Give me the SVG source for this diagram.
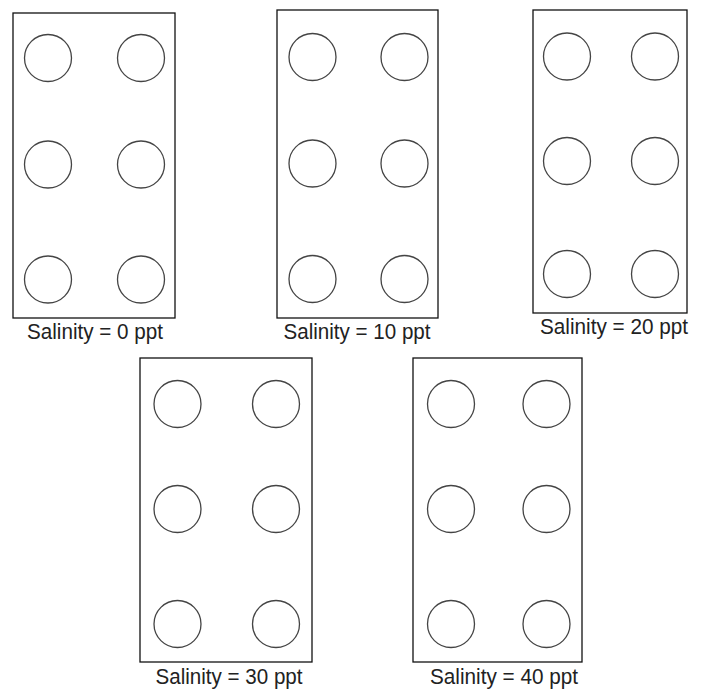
<svg xmlns="http://www.w3.org/2000/svg" width="702" height="690" viewBox="0 0 702 690">
<style>
.tank{fill:none;stroke:#111;stroke-width:1.3}
.dish{fill:none;stroke:#444;stroke-width:1.3}
.lbl{font-family:"Liberation Sans",Arial,sans-serif;font-size:22px;fill:#222;text-anchor:middle}
</style>
<rect width="702" height="690" fill="#fff"/>
<g id="tank0">
<rect class="tank" x="13" y="13" width="162" height="305"/>
<circle class="dish" cx="48" cy="58" r="23.5"/><circle class="dish" cx="141" cy="58" r="23.5"/>
<circle class="dish" cx="48" cy="164.5" r="23.5"/><circle class="dish" cx="141" cy="164.5" r="23.5"/>
<circle class="dish" cx="48" cy="279.5" r="23.5"/><circle class="dish" cx="141" cy="279.5" r="23.5"/>
<text class="lbl" x="95" y="338.5" textLength="136" lengthAdjust="spacingAndGlyphs">Salinity = 0 ppt</text>
</g>
<g id="tank10">
<rect class="tank" x="277" y="10" width="161" height="308"/>
<circle class="dish" cx="312.5" cy="57" r="23.5"/><circle class="dish" cx="404.5" cy="57" r="23.5"/>
<circle class="dish" cx="312.5" cy="163.5" r="23.5"/><circle class="dish" cx="404.5" cy="163.5" r="23.5"/>
<circle class="dish" cx="312.5" cy="279" r="23.5"/><circle class="dish" cx="404.5" cy="279" r="23.5"/>
<text class="lbl" x="357" y="339" textLength="147" lengthAdjust="spacingAndGlyphs">Salinity = 10 ppt</text>
</g>
<g id="tank20">
<rect class="tank" x="533" y="10" width="154" height="303"/>
<circle class="dish" cx="567" cy="56.5" r="23.5"/><circle class="dish" cx="655" cy="56.5" r="23.5"/>
<circle class="dish" cx="567" cy="161" r="23.5"/><circle class="dish" cx="655" cy="161" r="23.5"/>
<circle class="dish" cx="567" cy="274" r="23.5"/><circle class="dish" cx="655" cy="274" r="23.5"/>
<text class="lbl" x="614" y="333.5" textLength="148" lengthAdjust="spacingAndGlyphs">Salinity = 20 ppt</text>
</g>
<g id="tank30">
<rect class="tank" x="140" y="358" width="172" height="304"/>
<circle class="dish" cx="177.5" cy="404" r="23.5"/><circle class="dish" cx="276" cy="404" r="23.5"/>
<circle class="dish" cx="177.5" cy="509" r="23.5"/><circle class="dish" cx="276" cy="509" r="23.5"/>
<circle class="dish" cx="177.5" cy="624" r="23.5"/><circle class="dish" cx="276" cy="624" r="23.5"/>
<text class="lbl" x="229" y="683.5" textLength="147" lengthAdjust="spacingAndGlyphs">Salinity = 30 ppt</text>
</g>
<g id="tank40">
<rect class="tank" x="413" y="358" width="169" height="304"/>
<circle class="dish" cx="451" cy="404" r="23.5"/><circle class="dish" cx="546.5" cy="404" r="23.5"/>
<circle class="dish" cx="451" cy="509" r="23.5"/><circle class="dish" cx="546.5" cy="509" r="23.5"/>
<circle class="dish" cx="451" cy="624" r="23.5"/><circle class="dish" cx="546.5" cy="624" r="23.5"/>
<text class="lbl" x="504" y="684" textLength="148" lengthAdjust="spacingAndGlyphs">Salinity = 40 ppt</text>
</g>
<g id="connectors"/>
</svg>
